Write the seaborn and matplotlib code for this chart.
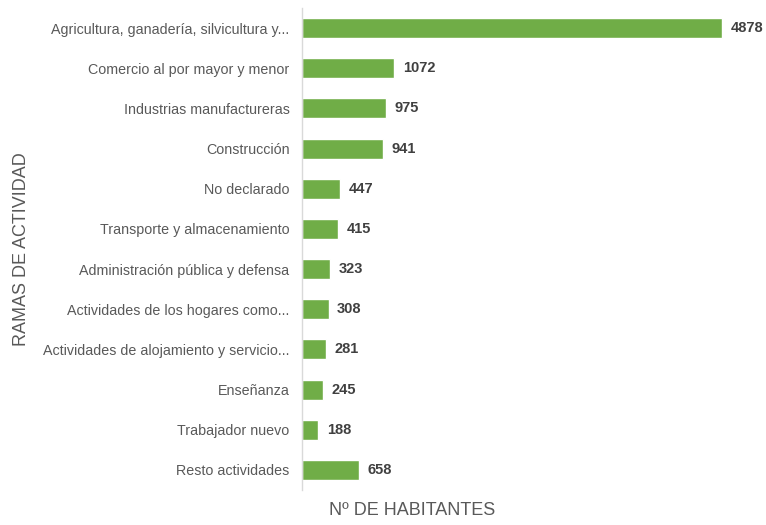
import matplotlib
matplotlib.use("Agg")
import matplotlib.pyplot as plt
import seaborn as sns
import pandas as pd

categories = [
    "Agricultura, ganadería, silvicultura y...",
    "Comercio al por mayor y menor",
    "Industrias manufactureras",
    "Construcción",
    "No declarado",
    "Transporte y almacenamiento",
    "Administración pública y defensa",
    "Actividades de los hogares como...",
    "Actividades de alojamiento y servicio...",
    "Enseñanza",
    "Trabajador nuevo",
    "Resto actividades",
]
habitantes = [4878, 1072, 975, 941, 447, 415, 323, 308, 281, 245, 188, 658]

df = pd.DataFrame({"rama": categories, "habitantes": habitantes})

sns.set_theme(style="white")
plt.rcParams["font.family"] = ["Liberation Sans", "DejaVu Sans"]

fig = plt.figure(figsize=(7.66, 5.25), dpi=100)
ax = fig.add_axes([302 / 766, 1 - 490 / 525, 458 / 766, 482 / 525])

sns.barplot(data=df, x="habitantes", y="rama", color="#70AD47", saturation=1,
            width=0.5, orient="h", ax=ax)

ax.set_xlim(0, 5320)
ax.set_ylim(len(categories) - 0.5, -0.5)

for i, v in enumerate(habitantes):
    ax.text(v + 100, i, str(v), va="center", ha="left", fontsize=10.5,
            fontweight="bold", color="#404040")

ax.set_xticks([])
ax.tick_params(axis="y", length=0, pad=9, labelsize=10.3, labelcolor="#595959")
for s in ["top", "right", "bottom"]:
    ax.spines[s].set_visible(False)
ax.spines["left"].set_color("#D9D9D9")
ax.spines["left"].set_linewidth(1)

ax.set_ylabel("RAMAS DE ACTIVIDAD", fontsize=13, color="#595959")
ax.yaxis.set_label_coords(-272 / 458, 0.5)
ax.set_xlabel("Nº DE HABITANTES", fontsize=13, color="#595959")
ax.xaxis.set_label_coords(0.24, -12 / 482)

fig.savefig("out.png", dpi=100, facecolor="white")
